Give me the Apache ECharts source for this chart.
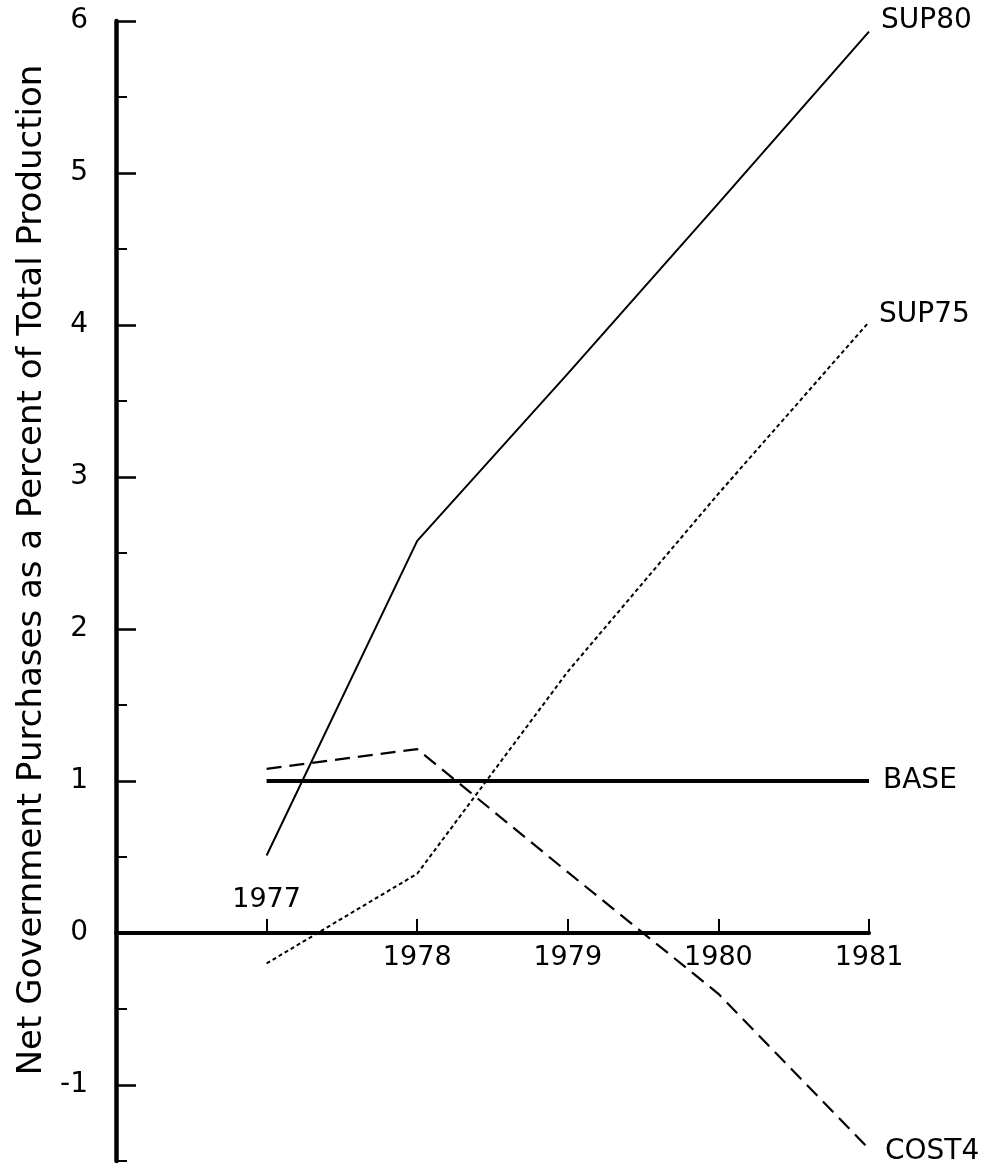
<!DOCTYPE html>
<html>
<head>
<meta charset="utf-8">
<title>Net Government Purchases</title>
<script src="https://cdn.jsdelivr.net/npm/echarts@6/dist/echarts.min.js"></script>
<style>
  html, body { margin: 0; padding: 0; background: #fff; }
  #chart { width: 988px; height: 1170px; }
</style>
</head>
<body>
<div id="chart"></div>
<script>
// years on the x axis
const years = [1977, 1978, 1979, 1980, 1981]
const yearTicks = [1977, 1978, 1979, 1980, 1981]
const yearLabelsBelow = [1978, 1979, 1980, 1981]
const yearLabelsAbove = [1977]

// y axis ticks
const yMajor = [-1, 0, 1, 2, 3, 4, 5, 6]
const yMinor = [-1.5, -0.5, 0.5, 1.5, 2.5, 3.5, 4.5, 5.5]

// net purchases, percent of total production
const sup80 = [0.51, 2.58, 3.68, 4.8, 5.93]
const sup75 = [-0.2, 0.39, 1.72, 2.89, 4.02]
const base = [1.0, 1.0, 1.0, 1.0, 1.0]
const cost4 = [1.08, 1.21, 0.4, -0.4, -1.42]

const FONT = 'DejaVu Sans'
const Y_MIN = -1.5
const Y_MAX = 6
const GRID_TOP = 21
const GRID_BOTTOM = 9
const HEIGHT = 1170

// the year axis crosses the y axis at 0, so pull it into the grid
const gridH = HEIGHT - GRID_TOP - GRID_BOTTOM
const zeroFromBottom = (0 - Y_MIN) / (Y_MAX - Y_MIN) * gridH
const zeroFromTop = gridH - zeroFromBottom

function pairs(vals) {
  return years.map((y, i) => [y, vals[i]])
}

function lineSeries(name, vals, width, type, offset) {
  return {
    name: name,
    type: 'line',
    data: pairs(vals),
    symbol: 'none',
    animation: false,
    silent: true,
    lineStyle: { color: '#000', width: width, type: type },
    endLabel: {
      show: true,
      formatter: '{a}',
      distance: 0,
      offset: offset,
      color: '#000',
      fontFamily: FONT,
      fontSize: 28
    }
  }
}

var myChart = echarts.init(document.getElementById('chart'), null, { renderer: 'canvas' })

const option = {
  animation: false,
  backgroundColor: '#fff',
  grid: {
    left: 116,
    right: 119,
    top: GRID_TOP,
    bottom: GRID_BOTTOM,
    containLabel: false,
    outerBoundsMode: 'none'
  },
  xAxis: [
    {
      type: 'value',
      position: 'bottom',
      offset: -zeroFromBottom,
      min: 1976,
      max: 1981,
      interval: 1,
      axisLine: { onZero: false, lineStyle: { color: '#000', width: 4 } },
      axisTick: {
        show: true,
        inside: true,
        length: 14,
        customValues: yearTicks,
        lineStyle: { color: '#000', width: 2 }
      },
      axisLabel: {
        show: true,
        margin: 11,
        color: '#000',
        fontFamily: FONT,
        fontSize: 27,
        formatter: function(v) {
          return yearLabelsBelow.indexOf(v) >= 0 ? String(v) : ''
        }
      },
      splitLine: { show: false }
    },
    {
      // only carries the 1977 label that sits above the axis
      type: 'value',
      position: 'top',
      offset: -zeroFromTop,
      min: 1976,
      max: 1981,
      interval: 1,
      axisLine: { show: false, onZero: false },
      axisTick: { show: false },
      axisLabel: {
        show: true,
        margin: 20,
        color: '#000',
        fontFamily: FONT,
        fontSize: 27,
        formatter: function(v) {
          return yearLabelsAbove.indexOf(v) >= 0 ? String(v) : ''
        }
      },
      splitLine: { show: false }
    }
  ],
  yAxis: [
    {
      type: 'value',
      min: Y_MIN,
      max: Y_MAX,
      interval: 0.5,
      name: 'Net Government Purchases as a Percent of Total Production',
      nameLocation: 'middle',
      nameRotate: 90,
      nameGap: 44,
      nameTextStyle: {
        color: '#000',
        fontFamily: FONT,
        fontSize: 34,
        padding: [0, 0, 0, 42]
      },
      axisLine: { lineStyle: { color: '#000', width: 4.5 } },
      axisTick: {
        show: true,
        inside: true,
        length: 11,
        customValues: yMinor,
        lineStyle: { color: '#000', width: 2 }
      },
      axisLabel: {
        customValues: yMajor,
        margin: 28,
        padding: [5, 0, 0, 0],
        color: '#000',
        fontFamily: FONT,
        fontSize: 28
      },
      splitLine: { show: false }
    },
    {
      // long ticks on whole numbers
      type: 'value',
      position: 'left',
      min: Y_MIN,
      max: Y_MAX,
      interval: 0.5,
      axisLine: { show: false },
      axisTick: {
        show: true,
        inside: true,
        length: 20,
        customValues: yMajor,
        lineStyle: { color: '#000', width: 2.5 }
      },
      axisLabel: { show: false },
      splitLine: { show: false }
    }
  ],
  series: [
    lineSeries('SUP80', sup80, 2, 'solid', [12, -11]),
    lineSeries('SUP75', sup75, 2, [4, 3], [10, -7]),
    lineSeries('BASE', base, 4, 'solid', [14, 0]),
    lineSeries('COST4', cost4, 2.2, [15, 8], [16, 3])
  ]
}

myChart.setOption(option)
window.addEventListener('resize', function() {
  myChart.resize()
})
</script>
</body>
</html>
